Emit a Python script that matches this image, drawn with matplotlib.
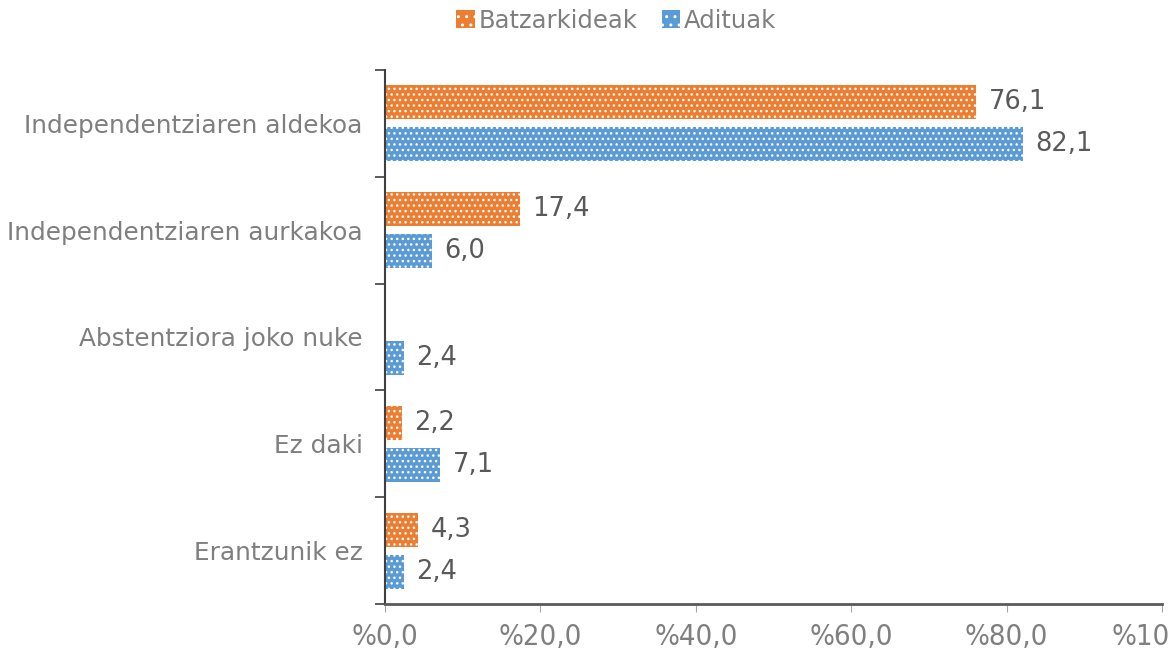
import matplotlib.pyplot as plt
import numpy as np
from matplotlib.patches import Patch

plt.rcParams['font.family'] = ['DejaVu Sans']
plt.rcParams['hatch.linewidth'] = 1.0

categories = ["Independentziaren aldekoa", "Independentziaren aurkakoa",
              "Abstentziora joko nuke", "Ez daki", "Erantzunik ez"]
batzarkideak = [76.1, 17.4, None, 2.2, 4.3]
adituak = [82.1, 6.0, 2.4, 7.1, 2.4]
xticks = [0, 20, 40, 60, 80, 100]

orange = "#ED7D31"
blue = "#5B9BD5"

fig = plt.figure(figsize=(11.69, 6.57), dpi=100)
ax = fig.add_axes([0.3293, 0.0807, 0.6647, 0.8128])

y = np.arange(len(categories))
h = 0.318
off = 0.197

def fmt(v):
    return ("%.1f" % v).replace(".", ",")

for i, v in enumerate(batzarkideak):
    if v is None:
        continue
    ax.barh(y[i] - off, v, height=h, color=orange, edgecolor="white", lw=0, hatch="...")
    ax.text(v + 1.6, y[i] - off, fmt(v), va="center", ha="left", fontsize=18.5, color="#595959")
for i, v in enumerate(adituak):
    ax.barh(y[i] + off, v, height=h, color=blue, edgecolor="white", lw=0, hatch="...")
    ax.text(v + 1.6, y[i] + off, fmt(v), va="center", ha="left", fontsize=18.5, color="#595959")

ax.set_ylim(len(categories) - 0.5, -0.5)
ax.set_xlim(0, 100)
ax.set_yticks(y)
ax.set_yticklabels(categories, fontsize=17.8, color="#7F7F7F")
ax.tick_params(axis="y", length=0, pad=16)
ax.set_yticks(np.arange(-0.5, len(categories)), minor=True)
ax.tick_params(axis="y", which="minor", length=7, color="#404040", width=1.2)

ax.set_xticks(xticks)
ax.set_xticklabels(["%" + fmt(t) for t in xticks], fontsize=21, color="#7F7F7F",
                   fontstretch="condensed")
ax.tick_params(axis="x", length=6, color="#A6A6A6", pad=8)

for s in ["top", "right"]:
    ax.spines[s].set_visible(False)
ax.spines["left"].set_color("#404040")
ax.spines["left"].set_linewidth(1.5)
ax.spines["bottom"].set_color("#595959")
ax.spines["bottom"].set_linewidth(2)

handles = [Patch(facecolor=orange, edgecolor="white", lw=0, hatch=".."),
           Patch(facecolor=blue, edgecolor="white", lw=0, hatch="..")]
fig.legend(handles, ["Batzarkideak", "Adituak"], loc="upper center",
           bbox_to_anchor=(0.527, 1.02), ncol=2, frameon=False, fontsize=17.5,
           handlelength=0.75, handleheight=0.75, handletextpad=0.15, columnspacing=1.0,
           labelcolor="#7F7F7F")

fig.savefig("out.png", dpi=100)
